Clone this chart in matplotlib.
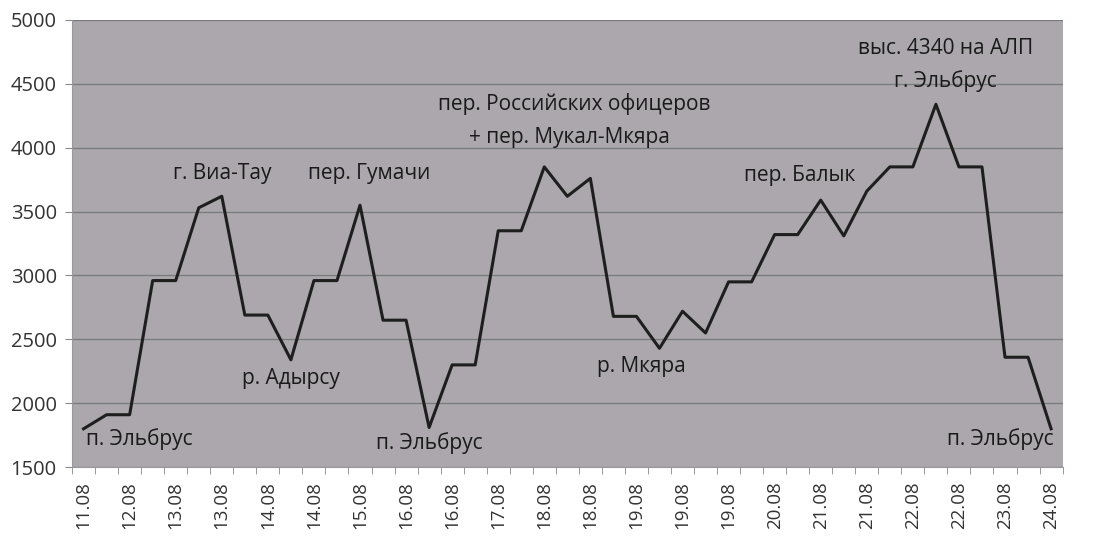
import numpy as np
import matplotlib
matplotlib.use('Agg')
import matplotlib.pyplot as plt

# heights along the route, one value per category (43 points)
heights = [1800, 1910, 1910, 2960, 2960, 3530, 3620, 2690, 2690, 2340,
           2960, 2960, 3550, 2650, 2650, 1810, 2300, 2300, 3350, 3350,
           3850, 3620, 3760, 2680, 2680, 2430, 2720, 2550, 2950, 2950,
           3320, 3320, 3590, 3310, 3660, 3850, 3850, 4340, 3850, 3850,
           2360, 2360, 1800]

# labels shown on the axis (every second category)
tick_labels = ['11.08', '12.08', '13.08', '13.08', '14.08', '14.08', '15.08',
               '16.08', '16.08', '17.08', '18.08', '18.08', '19.08', '19.08',
               '19.08', '20.08', '21.08', '21.08', '22.08', '22.08', '23.08',
               '24.08']

place_names = ['п. Эльбрус', 'г. Виа-Тау', 'пер. Гумачи', 'р. Адырсу', 'п. Эльбрус',
               'пер. Российских офицеров', '+ пер. Мукал-Мкяра', 'р. Мкяра',
               'пер. Балык', 'выс. 4340 на АЛП', 'г. Эльбрус', 'п. Эльбрус']

plt.rcParams['font.family'] = ['Open Sans', 'DejaVu Sans']

fig = plt.figure(figsize=(11, 5.4), dpi=100)
ax = fig.add_axes([0.0655, 0.135, 0.9005, 0.828])
ax.set_facecolor('#aba7ad')

x = np.arange(len(heights))
ax.plot(x, heights, color='#1e1e1e', lw=2.2, zorder=3)

ax.set_xlim(-0.5, len(heights) - 0.5)
ax.set_ylim(1500, 5000)
ax.set_yticks(np.arange(1500, 5001, 500))
ax.yaxis.grid(True, color='#7a7a7a', lw=0.9)
ax.set_axisbelow(True)

ax.set_xticks(x[::2])
ax.set_xticklabels(tick_labels, rotation=90, fontsize=13.5, color='#333333')
ax.set_xticks(np.arange(-0.5, len(heights), 1), minor=True)
ax.tick_params(axis='x', which='major', length=0, pad=10)
ax.tick_params(axis='x', which='minor', length=5, color='#888888')
ax.tick_params(axis='y', length=5, color='#888888', labelsize=14.5,
               labelcolor='#333333', pad=6)

for s in ['top', 'right']:
    ax.spines[s].set_visible(False)
for s in ['left', 'bottom']:
    ax.spines[s].set_color('#999999')

# place-name annotations (category index, height, alignment)
ann = [(0.1, 1720, 'left'), (6.0, 3800, 'center'), (12.4, 3800, 'center'),
       (9.0, 2190, 'center'), (15.0, 1690, 'center'), (21.3, 4340, 'center'),
       (21.1, 4080, 'center'), (24.2, 2290, 'center'), (31.1, 3780, 'center'),
       (37.4, 4780, 'center'), (37.4, 4520, 'center'), (42.1, 1720, 'right')]
for (ix, iy, ha), name in zip(ann, place_names):
    ax.text(ix, iy, name, ha=ha, va='center', fontsize=15, color='#1a1a1a',
            zorder=4)

plt.savefig('out.png', dpi=100)
